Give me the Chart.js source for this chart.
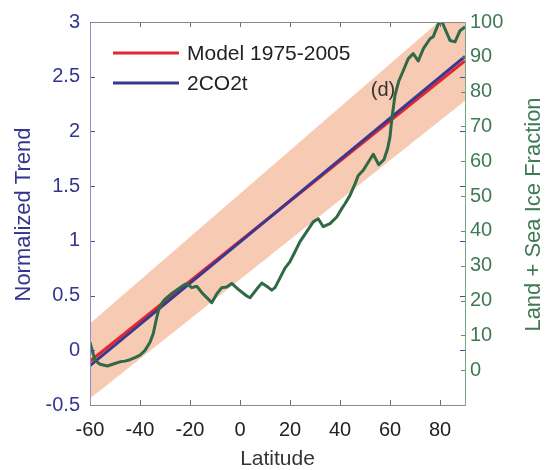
<!DOCTYPE html>
<html>
<head>
<meta charset="utf-8">
<script src="https://cdn.jsdelivr.net/npm/chart.js@4/dist/chart.umd.min.js"></script>
<style>
  html, body { margin: 0; padding: 0; background: #ffffff; }
  #wrap { width: 546px; height: 470px; }
</style>
</head>
<body>
<div id="wrap"><canvas id="c" width="546" height="470"></canvas></div>
<script>
// ---------- data ----------
const xTicks = [-60, -40, -20, 0, 20, 40, 60, 80];
const leftTicks = [-0.5, 0, 0.5, 1, 1.5, 2, 2.5, 3];
const rightTicks = [0, 10, 20, 30, 40, 50, 60, 70, 80, 90, 100];

const modelLat = [-60, 90];
const modelTrend = [-0.10, 2.645];

const co2Lat = [-60, 90];
const co2Trend = [-0.14, 2.685];

const bandLat = [-60, 90];
const bandLower = [-0.44, 2.28];
const bandUpper = [0.245, 3.21];

const iceLat = [-60, -58, -56, -53, -51, -48, -46, -44, -42, -40, -38, -36, -34.7, -33.6, -32.5, -31, -30, -27, -24, -22, -21, -19.3, -17.3, -14.8, -11.3, -9.3, -7.3, -5.3, -3.3, -0.8, 2.7, 4, 6.7, 8.7, 10.7, 12.7, 14, 16, 18, 20, 22, 24, 26.7, 29.3, 31.3, 33.3, 36, 38.7, 40.7, 42, 44, 46, 47.3, 49.3, 51.3, 53.3, 55.5, 57.6, 59, 60, 60.7, 62, 63.5, 65.3, 67.3, 69.3, 71.3, 73.3, 76, 77.3, 79.3, 80.7, 82, 84, 86, 88, 90];
const iceFrac = [8, 2.8, 1.7, 1.2, 1.7, 2.4, 2.6, 3.0, 3.6, 4.3, 5.7, 8, 10.5, 14.2, 17.5, 19.5, 20.4, 22.2, 23.7, 24.7, 24.7, 23.7, 24.1, 21.9, 19.4, 21.9, 23.7, 23.9, 24.9, 23.3, 21.3, 20.8, 23.3, 25, 24.1, 23, 23.7, 26.5, 29.3, 31.2, 34, 36.9, 39.8, 42.6, 43.5, 41.2, 42.1, 44, 46.4, 47.8, 50.2, 53.5, 55.9, 57.4, 59.7, 62, 59, 60.5, 63.5, 67, 72, 79, 83, 86, 89.5, 90.9, 88.8, 92.3, 95.2, 95.8, 99.4, 100.3, 98, 94.7, 94.3, 97.5, 98.6];

const labelD = { lat: 57.2, trend: 2.37, text: '(d)' };

// ---------- styles ----------
const FONT = '"Liberation Sans", Arial, Helvetica, sans-serif';
const NAVY = '#34358f';
const GREEN_TXT = '#3f7a55';
const GREEN_LINE = '#2f6a45';
const RED = '#e3262b';
const BLUE = '#3b3891';
const BAND = '#f7cab3';

const mk = (xs, ys) => xs.map((x, i) => ({ x: x, y: ys[i] }));
const plain = v => String(v);

const framePlugin = {
  id: 'frame',
  afterDatasetsDraw(chart) {
    const { ctx, chartArea, scales } = chart;
    const { left, right, top, bottom } = chartArea;
    const x = scales.x, y = scales.y, y2 = scales.y2;
    ctx.save();
    ctx.lineWidth = 1;
    // x ticks (bottom & top, inward)
    ctx.strokeStyle = '#6e6e6e';
    xTicks.forEach(v => {
      const px = Math.round(x.getPixelForValue(v)) + 0.5;
      ctx.beginPath();
      ctx.moveTo(px, bottom); ctx.lineTo(px, bottom - 5);
      ctx.moveTo(px, top); ctx.lineTo(px, top + 5);
      ctx.stroke();
    });
    // left ticks (blue) on both sides
    ctx.strokeStyle = '#4a4aa0';
    leftTicks.forEach(v => {
      const py = Math.round(y.getPixelForValue(v)) + 0.5;
      ctx.beginPath();
      ctx.moveTo(left, py); ctx.lineTo(left + 5, py);
      ctx.moveTo(right, py); ctx.lineTo(right - 5, py);
      ctx.stroke();
    });
    // right ticks (green)
    ctx.strokeStyle = '#5d9170';
    rightTicks.forEach(v => {
      const py = Math.round(y2.getPixelForValue(v)) + 0.5;
      ctx.beginPath();
      ctx.moveTo(right, py); ctx.lineTo(right - 4, py);
      ctx.stroke();
    });
    // spines
    const L = Math.round(left) + 0.5, R = Math.round(right) + 0.5;
    const T = Math.round(top) + 0.5, B = Math.round(bottom) + 0.5;
    ctx.strokeStyle = '#8a8a8a';
    ctx.beginPath(); ctx.moveTo(L, T); ctx.lineTo(R, T); ctx.stroke();
    ctx.beginPath(); ctx.moveTo(L, B); ctx.lineTo(R, B); ctx.stroke();
    ctx.strokeStyle = '#8f8fc6';
    ctx.beginPath(); ctx.moveTo(L, T); ctx.lineTo(L, B); ctx.stroke();
    ctx.strokeStyle = '#73a683';
    ctx.beginPath(); ctx.moveTo(R, T); ctx.lineTo(R, B); ctx.stroke();
    ctx.restore();
  },
  afterDraw(chart) {
    const { ctx, chartArea, scales } = chart;
    const { left, right, top, bottom } = chartArea;
    ctx.save();
    // legend
    const ds = chart.data.datasets;
    const items = [ds[2], ds[3]];
    const ly0 = top + 31, lstep = 30;
    items.forEach((d, i) => {
      const yy = ly0 + i * lstep;
      ctx.strokeStyle = d.borderColor;
      ctx.lineWidth = 3;
      ctx.beginPath(); ctx.moveTo(left + 23, yy); ctx.lineTo(left + 89, yy); ctx.stroke();
      ctx.fillStyle = '#222222';
      ctx.font = '21px ' + FONT;
      ctx.textAlign = 'left';
      ctx.textBaseline = 'middle';
      ctx.fillText(d.label, left + 97, yy + 1);
    });
    // (d) label
    ctx.fillStyle = '#333333';
    ctx.font = '20px ' + FONT;
    ctx.textAlign = 'center';
    ctx.textBaseline = 'middle';
    ctx.fillText(labelD.text, scales.x.getPixelForValue(labelD.lat), scales.y.getPixelForValue(labelD.trend));
    // axis titles
    ctx.font = '22px ' + FONT;
    ctx.fillStyle = NAVY;
    ctx.save();
    ctx.translate(24, (top + bottom) / 2 + 1);
    ctx.rotate(-Math.PI / 2);
    ctx.fillText('Normalized Trend', 0, 0);
    ctx.restore();
    ctx.fillStyle = GREEN_TXT;
    ctx.save();
    ctx.translate(534, (top + bottom) / 2 + 1);
    ctx.rotate(-Math.PI / 2);
    ctx.fillText('Land + Sea Ice Fraction', 0, 0);
    ctx.restore();
    ctx.fillStyle = '#333333';
    ctx.font = '21px ' + FONT;
    ctx.fillText('Latitude', (left + right) / 2, 459);
    ctx.restore();
  }
};

new Chart(document.getElementById('c'), {
  type: 'line',
  data: {
    datasets: [
      { label: 'band lower', data: mk(bandLat, bandLower), yAxisID: 'y', borderWidth: 0, pointRadius: 0, fill: false, order: 4 },
      { label: 'band upper', data: mk(bandLat, bandUpper), yAxisID: 'y', borderWidth: 0, pointRadius: 0, fill: '-1', backgroundColor: BAND, order: 3 },
      { label: 'Model 1975-2005', data: mk(modelLat, modelTrend), yAxisID: 'y', borderColor: RED, borderWidth: 3, pointRadius: 0, fill: false, order: 2 },
      { label: '2CO2t', data: mk(co2Lat, co2Trend), yAxisID: 'y', borderColor: BLUE, borderWidth: 3, pointRadius: 0, fill: false, order: 1 },
      { label: 'Land + Sea Ice Fraction', data: mk(iceLat, iceFrac), yAxisID: 'y2', borderColor: GREEN_LINE, borderWidth: 3, pointRadius: 0, fill: false, order: 0, borderJoinStyle: 'round' }
    ]
  },
  options: {
    responsive: false,
    animation: false,
    devicePixelRatio: 1,
    layout: { padding: { top: 18, left: 0, right: 0, bottom: 0 } },
    plugins: { legend: { display: false }, tooltip: { enabled: false } },
    scales: {
      x: {
        type: 'linear', position: 'bottom', min: -60, max: 90,
        afterBuildTicks: s => { s.ticks = xTicks.map(v => ({ value: v })); },
        afterFit: s => { s.height = 65; },
        grid: { display: false, drawTicks: false },
        border: { display: false },
        ticks: { font: { size: 20, family: FONT }, color: '#222222', padding: 13, maxRotation: 0, callback: plain }
      },
      y: {
        type: 'linear', position: 'left', min: -0.5, max: 3,
        afterBuildTicks: s => { s.ticks = leftTicks.map(v => ({ value: v })); },
        afterFit: s => { s.width = 90; },
        grid: { display: false, drawTicks: false },
        border: { display: false },
        ticks: { font: { size: 20, family: FONT }, color: NAVY, padding: 10, callback: plain }
      },
      y2: {
        type: 'linear', position: 'right', min: -10, max: 100,
        afterBuildTicks: s => { s.ticks = rightTicks.map(v => ({ value: v })); },
        afterFit: s => { s.width = 81; },
        grid: { display: false, drawTicks: false },
        border: { display: false },
        ticks: { font: { size: 20, family: FONT }, color: GREEN_TXT, padding: 5, callback: plain }
      }
    }
  },
  plugins: [framePlugin]
});
</script>
</body>
</html>
